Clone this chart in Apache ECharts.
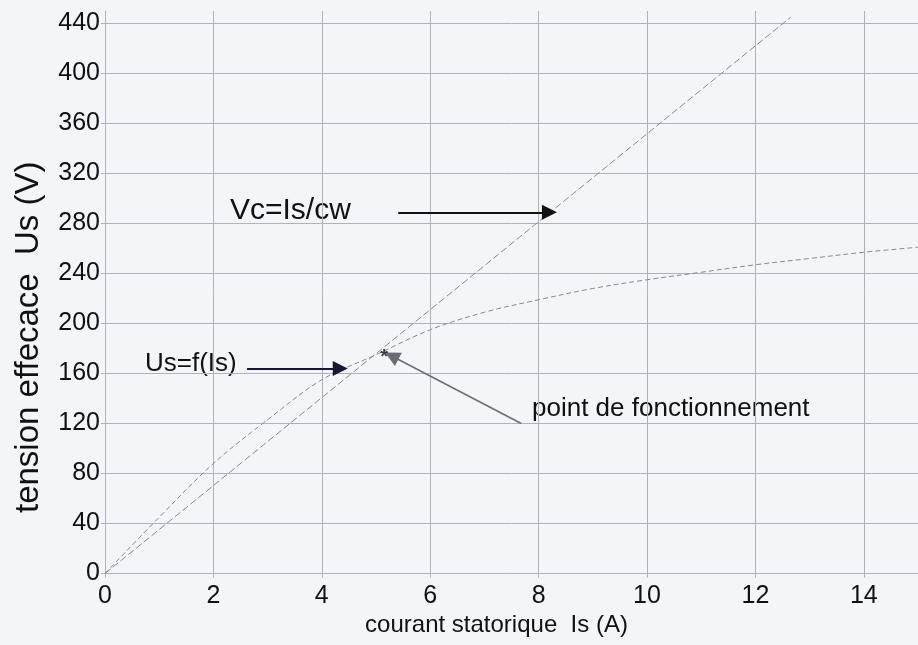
<!DOCTYPE html>
<html>
<head>
<meta charset="utf-8">
<script src="https://cdn.jsdelivr.net/npm/echarts@6/dist/echarts.min.js"></script>
<style>
html,body{margin:0;padding:0;background:#f4f5f8;}
#chart{width:918px;height:645px;}
</style>
</head>
<body>
<div id="chart"></div>
<script>
// ---- data ----
const isCurrent = [0, 1, 2, 3, 4, 5, 6, 7, 8, 9, 10, 11, 12, 13, 14, 15];          // Is (A)
const usValues  = [0, 45, 88, 123, 155, 175, 195, 209, 219, 228, 235, 241, 247, 252, 257, 261]; // Us=f(Is) (V)
const vcIs      = [0, 12.65];   // Vc=Is/cw straight line, Is (A)
const vcValues  = [0, 445];     // Vc (V)
const opPoint   = [5.15, 178];  // point de fonctionnement
const xTicks    = [0, 2, 4, 6, 8, 10, 12, 14];
const yTicks    = [0, 40, 80, 120, 160, 200, 240, 280, 320, 360, 400, 440];
// annotation arrows (data coordinates): [from, to]
const arrowVc    = [[5.41, 289], [8.2, 289]];
const arrowUs    = [[2.62, 164], [4.34, 164]];
const arrowPoint = [[7.68, 120], [5.29, 174]];

const FONT = 'Liberation Sans, Arial, sans-serif';
const GRID = '#aeb2c0';

const chart = echarts.init(document.getElementById('chart'), null, {renderer: 'canvas'});

const usData = isCurrent.map((x, i) => [x, usValues[i]]);
const vcData = vcIs.map((x, i) => [x, vcValues[i]]);

chart.setOption({
  backgroundColor: '#f4f5f8',
  animation: false,
  grid: {left: 105, top: 11, width: 816, height: 562.5, containLabel: false},
  xAxis: {
    type: 'value', min: 0, max: 15, interval: 2,
    name: 'courant statorique  Is (A)', nameLocation: 'middle', nameGap: 28,
    nameTextStyle: {fontFamily: FONT, fontSize: 24, color: '#111', padding: [0, 30, 0, 0]},
    axisLine: {show: true, lineStyle: {color: GRID, width: 1}},
    axisTick: {show: true, length: 4, lineStyle: {color: GRID}},
    axisLabel: {fontFamily: FONT, fontSize: 25, color: '#111', margin: 10, showMaxLabel: false,
      formatter: v => xTicks.includes(v) ? String(v) : ''},
    splitLine: {show: true, showMaxLine: false, lineStyle: {color: GRID, width: 1}}
  },
  yAxis: {
    type: 'value', min: 0, max: 450, interval: 40,
    name: 'tension effecace  Us (V)', nameLocation: 'middle', nameGap: 60,
    nameTextStyle: {fontFamily: FONT, fontSize: 33, color: '#111', padding: [0, 90, 0, 0]},
    axisLine: {show: true, lineStyle: {color: GRID, width: 1}},
    axisTick: {show: true, length: 4, lineStyle: {color: GRID}},
    axisLabel: {fontFamily: FONT, fontSize: 25, color: '#111', margin: 5, showMaxLabel: false,
      formatter: v => yTicks.includes(v) ? String(v) : ''},
    splitLine: {show: true, showMaxLine: false, lineStyle: {color: GRID, width: 1}}
  },
  series: [
    {
      name: 'Vc=Is/cw', type: 'line', data: vcData, showSymbol: false, symbol: 'none',
      lineStyle: {color: '#858a98', width: 1, type: [7, 3]}, z: 3
    },
    {
      name: 'Us=f(Is)', type: 'line', data: usData, smooth: 0.35, showSymbol: false, symbol: 'none',
      lineStyle: {color: '#858a98', width: 1, type: [5, 3]}, z: 3
    },
    {
      name: 'point de fonctionnement', type: 'scatter', data: [opPoint],
      symbolSize: 0, z: 5,
      label: {show: true, formatter: '*', position: 'inside', fontFamily: FONT, fontSize: 20,
        fontWeight: 'bold', color: '#111', offset: [0, 6]},
      markLine: {
        silent: true, animation: false,
        symbol: ['none', 'triangle'], symbolSize: 15,
        label: {show: false},
        data: [
          [{coord: arrowVc[0], lineStyle: {color: '#111', width: 2, type: 'solid'}}, {coord: arrowVc[1]}],
          [{coord: arrowUs[0], lineStyle: {color: '#1a1530', width: 2, type: 'solid'}}, {coord: arrowUs[1]}],
          [{coord: arrowPoint[0], lineStyle: {color: '#6a6d78', width: 1.5, type: 'solid'}}, {coord: arrowPoint[1]}]
        ]
      }
    }
  ],
  graphic: [
    {type: 'text', x: 230, y: 211, style: {text: 'Vc=Is/cw', font: '30px ' + FONT, fill: '#111', verticalAlign: 'middle', align: 'left'}},
    {type: 'text', x: 145, y: 364, style: {text: 'Us=f(Is)', font: '26px ' + FONT, fill: '#111', verticalAlign: 'middle', align: 'left'}},
    {type: 'text', x: 532, y: 409, style: {text: 'point de fonctionnement', font: '26px ' + FONT, fill: '#111', verticalAlign: 'middle', align: 'left'}}
  ]
});
</script>
</body>
</html>
